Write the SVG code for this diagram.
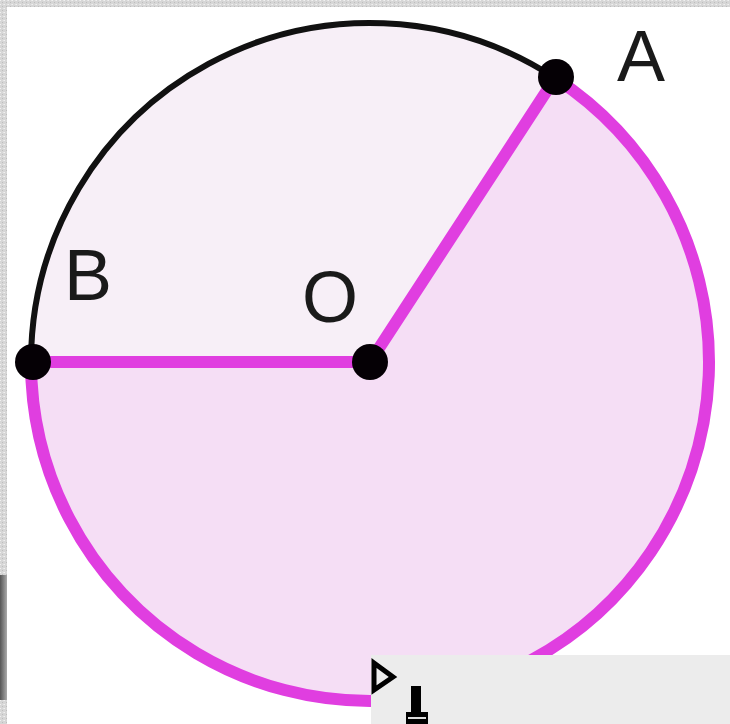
<svg xmlns="http://www.w3.org/2000/svg" width="730" height="724" viewBox="0 0 730 724">
  <defs>
    <pattern id="tex" width="4" height="4" patternUnits="userSpaceOnUse">
      <rect width="4" height="4" fill="#d6d6d6"/>
      <rect x="0" y="0" width="1" height="1" fill="#f0f0f0"/>
      <rect x="2" y="2" width="1" height="1" fill="#bdbdbd"/>
      <rect x="3" y="0" width="1" height="1" fill="#e6e6e6"/>
    </pattern>
    <linearGradient id="fig" x1="0" y1="0" x2="1" y2="0">
      <stop offset="0" stop-color="#555"/>
      <stop offset="1" stop-color="#aaa"/>
    </linearGradient>
  </defs>
  <style>
    .pink { stroke: #e03ee0; stroke-width: 12; fill: none; stroke-linecap: round; }
    .blk { stroke: #111; stroke-width: 6; fill: none; }
    .dot { fill: #050005; }
    .lbl { font-family: "Liberation Sans", Arial, sans-serif; font-size: 72px; fill: #1a1a1a; }
  </style>

  <!-- background and textured frame -->
  <rect x="0" y="0" width="730" height="724" fill="url(#tex)"/>
  <rect x="7" y="7" width="723" height="717" fill="#ffffff"/>
  <rect x="0" y="575" width="7" height="125" fill="url(#fig)"/>

  <!-- sectors -->
  <path d="M370,362 L555.1,78 A339,339 0 1 1 31,362 Z" fill="#f5def5"/>
  <path d="M370,362 L31,362 A339,339 0 0 1 555.1,78 Z" fill="#f7eff7"/>

  <!-- arcs -->
  <path class="blk" d="M31,362 A339,339 0 0 1 555.1,78"/>
  <path class="pink" d="M555.1,78 A339,339 0 1 1 31,362"/>

  <g id="connectors">
    <line class="pink" x1="31" y1="362" x2="370" y2="362"/>
    <line class="pink" x1="370" y1="362" x2="555.1" y2="78"/>
  </g>

  <g id="node-A">
    <circle class="dot" cx="556" cy="77" r="18"/>
    <text class="lbl" x="617" y="81">A</text>
  </g>
  <g id="node-B">
    <circle class="dot" cx="33" cy="362" r="18"/>
    <text class="lbl" x="64" y="300">B</text>
  </g>
  <g id="node-O">
    <circle class="dot" cx="370" cy="362" r="18"/>
    <text class="lbl" x="302" y="322">O</text>
  </g>

  <!-- toolbar panel bottom right -->
  <g id="toolbar">
    <rect x="371" y="655" width="359" height="69" fill="#ececec"/>
    <polygon points="374,663 393,677 374,690" fill="#ececec" stroke="#000" stroke-width="5" stroke-linejoin="miter"/>
    <rect x="411" y="686" width="10" height="28" fill="#000"/>
    <rect x="406" y="712" width="22" height="12" fill="#000"/>
    <rect x="408" y="717" width="18" height="2" fill="#ddd"/>
  </g>
</svg>
